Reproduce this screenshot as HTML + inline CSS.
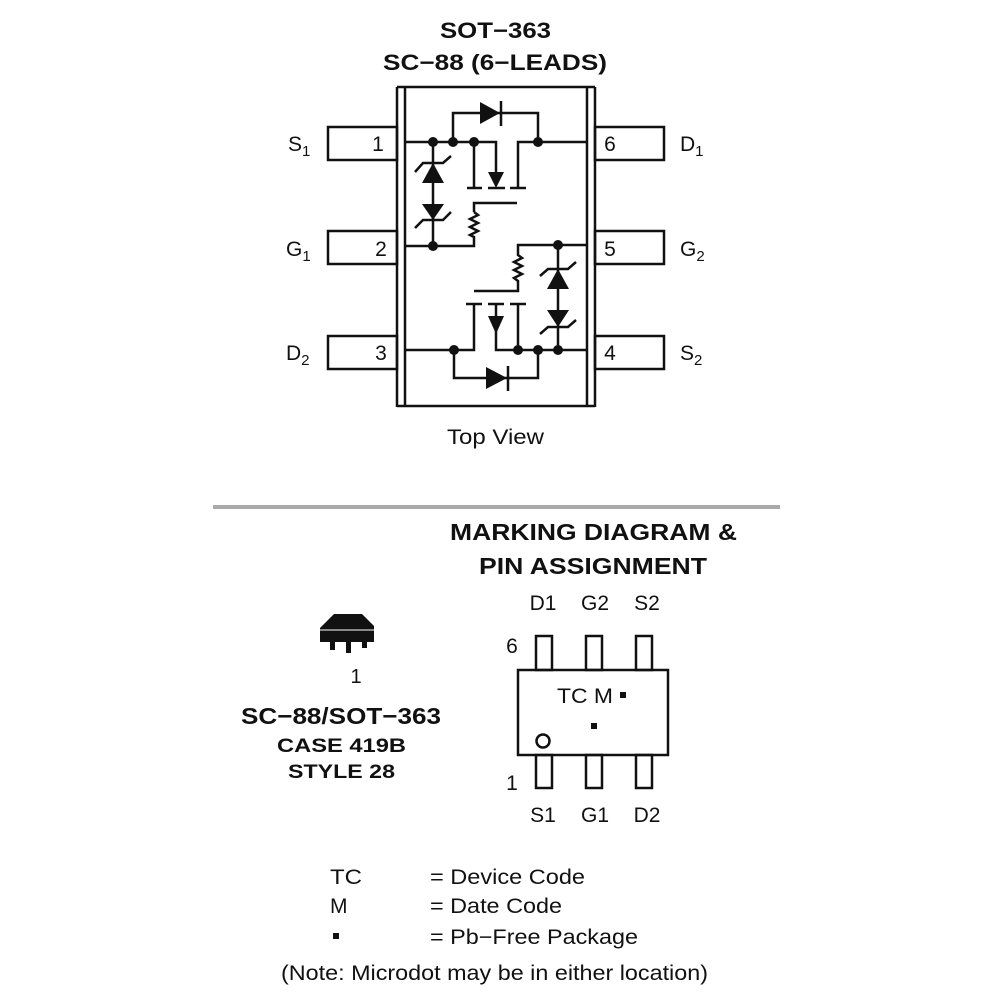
<!DOCTYPE html>
<html><head><meta charset="utf-8"><style>
html,body{margin:0;padding:0;background:#fff}
svg{display:block}
text{font-family:"Liberation Sans",Arial,sans-serif;fill:#111}
</style></head><body>
<svg width="1000" height="1000" viewBox="0 0 1000 1000" xmlns="http://www.w3.org/2000/svg">
<g font-size="22" font-weight="bold">
<text x="440" y="38" textLength="111" lengthAdjust="spacingAndGlyphs">SOT−363</text>
<text x="383" y="70" textLength="224" lengthAdjust="spacingAndGlyphs">SC−88 (6−LEADS)</text>
</g>
<g stroke="#111" stroke-width="2.5" fill="none">
<line x1="397" y1="87" x2="397" y2="407"/>
<line x1="405" y1="87" x2="405" y2="407"/>
<line x1="587" y1="87" x2="587" y2="407"/>
<line x1="595" y1="87" x2="595" y2="407"/>
<line x1="397" y1="87" x2="595" y2="87"/>
<line x1="397" y1="406" x2="595" y2="406"/>
<rect x="328" y="127" width="69" height="33"/>
<rect x="328" y="231" width="69" height="33"/>
<rect x="328" y="336" width="69" height="33"/>
<rect x="595" y="127" width="69" height="33"/>
<rect x="595" y="231" width="69" height="33"/>
<rect x="595" y="336" width="69" height="33"/>
<polyline points="405,142 474,142 496,142 496,175"/>
<polyline points="518,188 518,142 587,142"/>
<polyline points="453,142 453,113 538,113 538,142"/>
<line x1="467" y1="188" x2="482" y2="188"/>
<line x1="488" y1="188" x2="505" y2="188"/>
<line x1="510" y1="188" x2="526" y2="188"/>
<line x1="474" y1="142" x2="474" y2="188"/>
<polyline points="517,203 474,203 474,212"/>
<polyline points="474,212 478,215 470,219 478,223 470,227 478,231 470,235 474,237 474,246 405,246"/>
<line x1="433" y1="142" x2="433" y2="246"/>
<polyline points="415,172 423,163 443,163 451,156"/>
<polyline points="415,228 423,220 443,220 451,212"/>
<polyline points="405,350 474,350 474,304"/>
<polyline points="496,316 496,350 587,350"/>
<line x1="518" y1="304" x2="518" y2="350"/>
<line x1="466" y1="304" x2="482" y2="304"/>
<line x1="488" y1="304" x2="504" y2="304"/>
<line x1="510" y1="304" x2="526" y2="304"/>
<line x1="496" y1="304" x2="496" y2="316"/>
<polyline points="587,245 518,245 518,255 522,258 514,262 522,266 514,270 522,274 514,278 518,281 518,291 474,291"/>
<line x1="558" y1="245" x2="558" y2="350"/>
<polyline points="540,276 548,269 568,269 576,262"/>
<polyline points="540,334 548,327 568,327 576,320"/>
<polyline points="454,350 454,378 538,378 538,350"/>
<line x1="508" y1="366" x2="508" y2="391"/>
<line x1="501" y1="101" x2="501" y2="126"/>
</g>
<g fill="#111">
<polygon points="480,102 480,124 500,113"/>
<polygon points="486,367 486,389 507,378"/>
<polygon points="488,172 504,172 496,188"/>
<polygon points="488,316 504,316 496,334"/>
<polygon points="433,163 422,183 444,183"/>
<polygon points="422,204 444,204 433,220"/>
<polygon points="558,269 547,289 569,289"/>
<polygon points="547,310 569,310 558,327"/>
<circle cx="433" cy="142" r="5"/><circle cx="453" cy="142" r="5"/><circle cx="474" cy="142" r="5"/><circle cx="538" cy="142" r="5"/>
<circle cx="433" cy="246" r="5"/>
<circle cx="558" cy="245" r="5"/>
<circle cx="454" cy="350" r="5"/><circle cx="518" cy="350" r="5"/><circle cx="538" cy="350" r="5"/><circle cx="558" cy="350" r="5"/>
</g>
<g font-size="21">
<text x="378" y="151" text-anchor="middle">1</text>
<text x="381" y="256" text-anchor="middle">2</text>
<text x="381" y="360" text-anchor="middle">3</text>
<text x="610" y="151" text-anchor="middle">6</text>
<text x="610" y="256" text-anchor="middle">5</text>
<text x="610" y="360" text-anchor="middle">4</text>
<text x="288" y="151">S<tspan font-size="15" dy="5">1</tspan></text>
<text x="286" y="256">G<tspan font-size="15" dy="5">1</tspan></text>
<text x="286" y="360">D<tspan font-size="15" dy="5">2</tspan></text>
<text x="680" y="151">D<tspan font-size="15" dy="5">1</tspan></text>
<text x="680" y="256">G<tspan font-size="15" dy="5">2</tspan></text>
<text x="680" y="360">S<tspan font-size="15" dy="5">2</tspan></text>
<text x="447" y="444" textLength="97" lengthAdjust="spacingAndGlyphs">Top View</text>
</g>
<rect x="213" y="505" width="567" height="4" fill="#aaa"/>
<g font-size="23" font-weight="bold">
<text x="450" y="540" textLength="287" lengthAdjust="spacingAndGlyphs">MARKING DIAGRAM &amp;</text>
<text x="479" y="574" textLength="228" lengthAdjust="spacingAndGlyphs">PIN ASSIGNMENT</text>
<text x="241" y="724" textLength="200" lengthAdjust="spacingAndGlyphs">SC−88/SOT−363</text>
</g>
<g font-size="19" font-weight="bold">
<text x="277" y="752" textLength="129" lengthAdjust="spacingAndGlyphs">CASE 419B</text>
<text x="288" y="778" textLength="107" lengthAdjust="spacingAndGlyphs">STYLE 28</text>
</g>
<g>
<polygon points="320,628 334,614 362,614 374,626 374,642 320,642" fill="#111"/>
<rect x="330" y="640" width="5" height="10" fill="#111"/>
<rect x="346" y="640" width="5" height="13" fill="#111"/>
<rect x="362" y="638" width="5" height="10" fill="#111"/>
<line x1="320" y1="630" x2="374" y2="630" stroke="#fff" stroke-width="1"/>
</g>
<text x="356" y="683" font-size="20" text-anchor="middle">1</text>
<g font-size="21" text-anchor="middle">
<text x="543" y="610">D1</text><text x="595" y="610">G2</text><text x="647" y="610">S2</text>
<text x="543" y="822">S1</text><text x="595" y="822">G1</text><text x="647" y="822">D2</text>
<text x="512" y="653">6</text><text x="512" y="790">1</text>
</g>
<g stroke="#111" stroke-width="2.5" fill="none">
<rect x="518" y="670" width="150" height="85"/>
<rect x="536" y="636" width="16" height="34"/><rect x="586" y="636" width="16" height="34"/><rect x="636" y="636" width="16" height="34"/>
<rect x="536" y="755" width="16" height="33"/><rect x="586" y="755" width="16" height="33"/><rect x="636" y="755" width="16" height="33"/>
<circle cx="543" cy="741" r="6.5"/>
</g>
<text x="557" y="703" font-size="21" textLength="56" lengthAdjust="spacingAndGlyphs">TC M</text>
<rect x="620" y="692" width="6" height="6" fill="#111"/>
<rect x="591" y="723" width="6" height="6" fill="#111"/>
<g font-size="21">
<text x="330" y="884" textLength="32" lengthAdjust="spacingAndGlyphs">TC</text>
<text x="430" y="884" textLength="155" lengthAdjust="spacingAndGlyphs">= Device Code</text>
<text x="330" y="913">M</text>
<text x="430" y="913" textLength="132" lengthAdjust="spacingAndGlyphs">= Date Code</text>
<rect x="333" y="933" width="6" height="6" fill="#111"/>
<text x="430" y="944" textLength="208" lengthAdjust="spacingAndGlyphs">= Pb−Free Package</text>
<text x="281" y="980" textLength="427" lengthAdjust="spacingAndGlyphs">(Note: Microdot may be in either location)</text>
</g>
</svg>
</body></html>
